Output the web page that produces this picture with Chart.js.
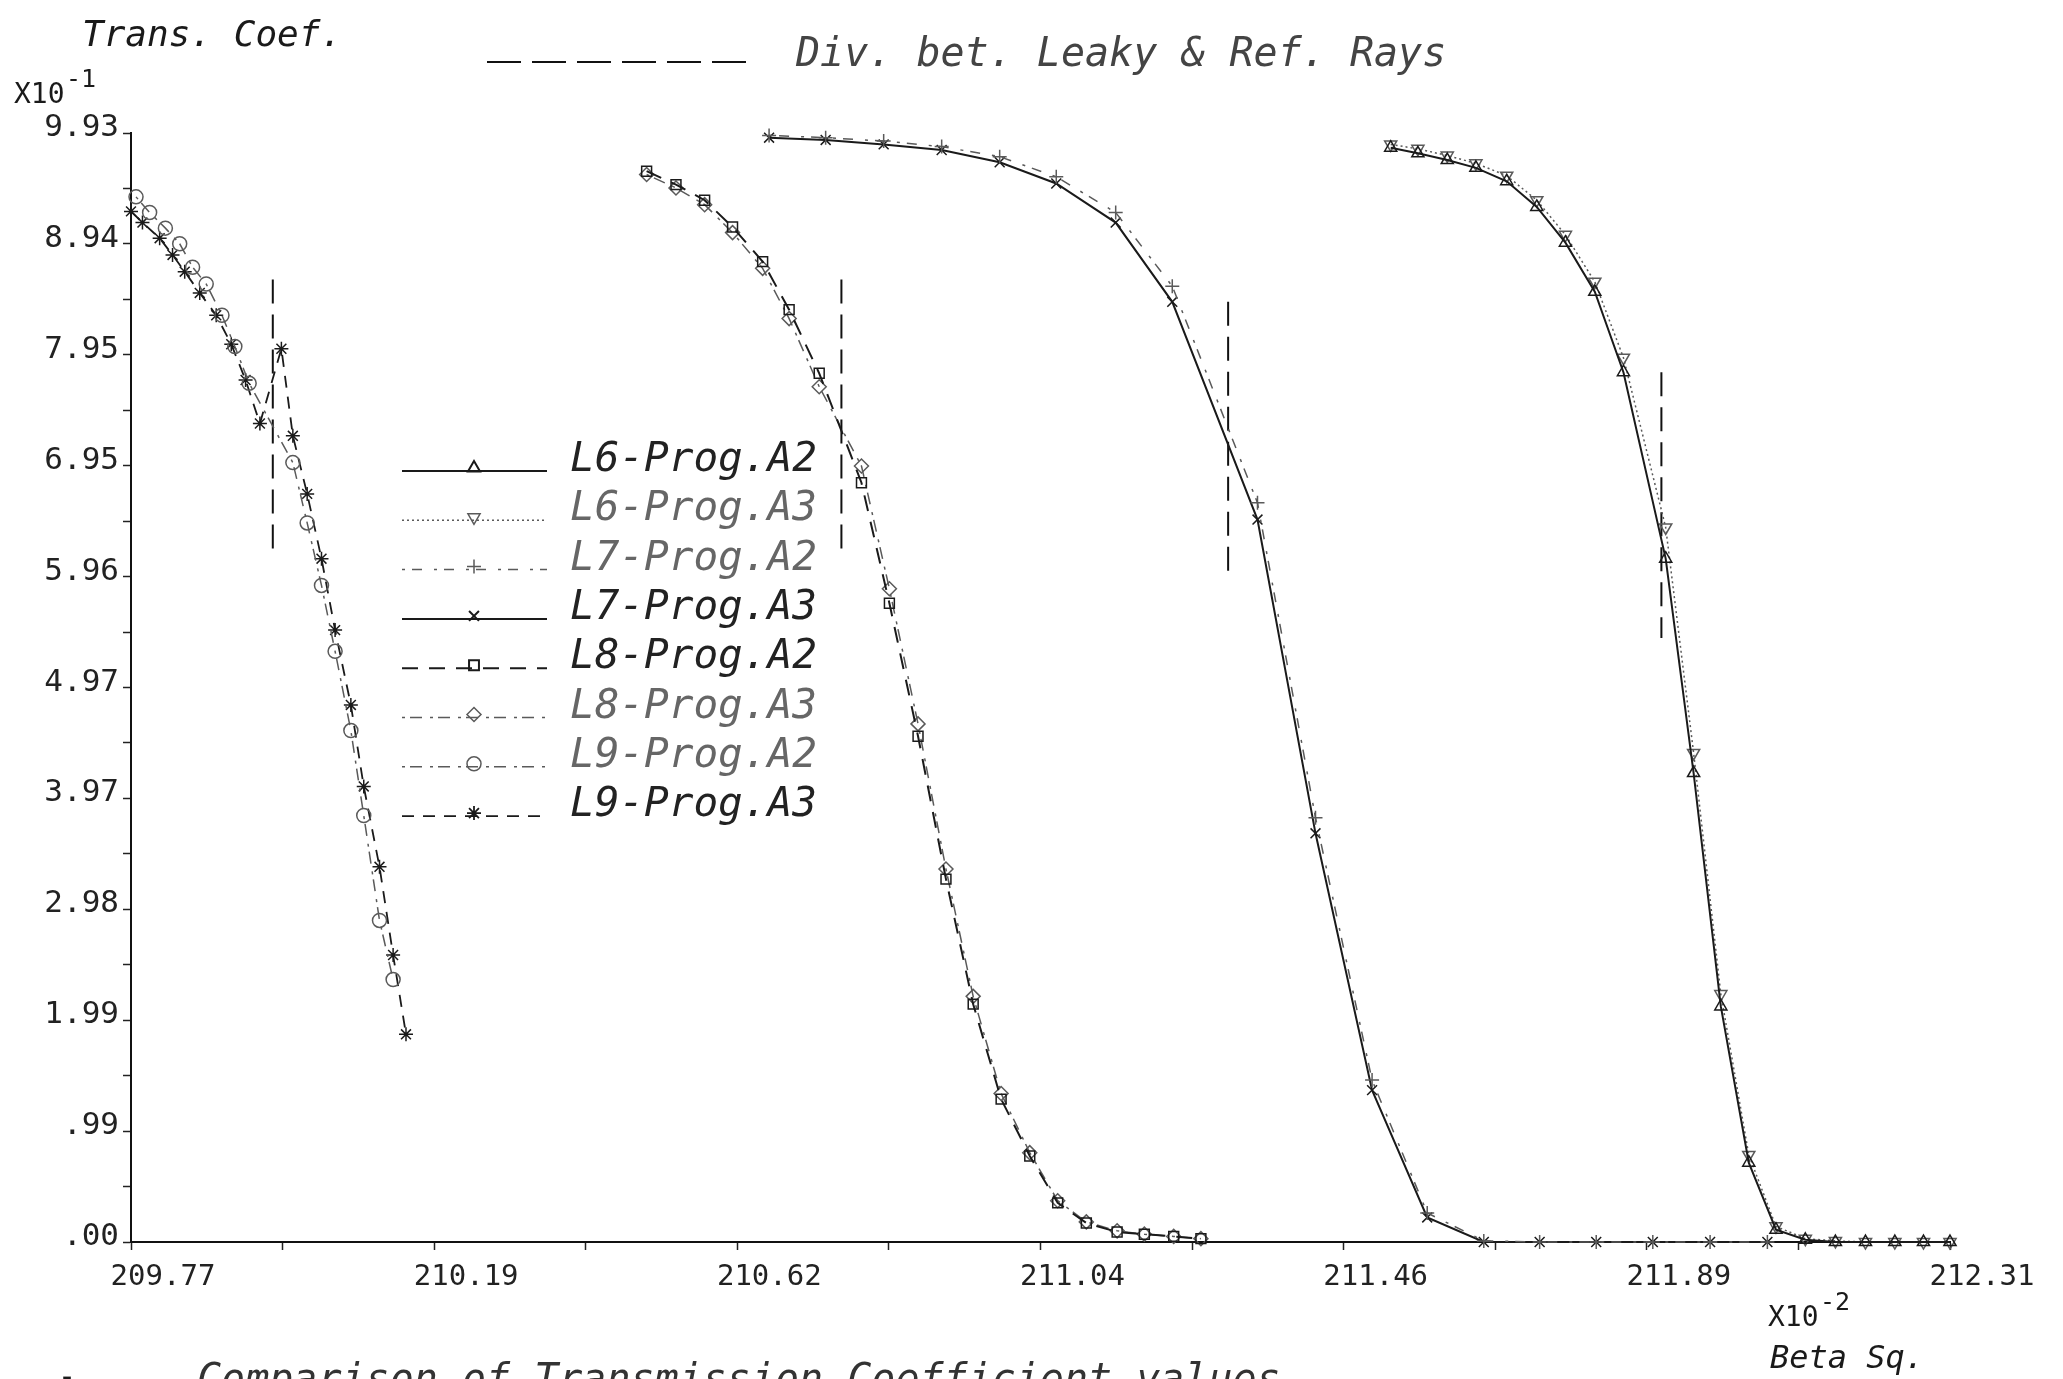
<!DOCTYPE html>
<html>
<head>
<meta charset="utf-8">
<script src="https://cdn.jsdelivr.net/npm/chart.js@4.4.1/dist/chart.umd.min.js"></script>
<style>
  html, body { margin: 0; padding: 0; background: #fff; }
  canvas { display: block; }
</style>
</head>
<body>
<canvas id="myChart" width="2063" height="1379"></canvas>
<script>
// axis ranges and tick labels (x in units of 10^-2, y in units of 10^-1)
const xMin = 209.77, xMax = 212.31;
const yMin = 0, yMax = 9.932;
const xTickLabels = ['209.77', '210.19', '210.62', '211.04', '211.46', '211.89', '212.31'];
const yTickLabels = ['.00', '.99', '1.99', '2.98', '3.97', '4.97', '5.96', '6.95', '7.95', '8.94', '9.93'];

// L6 curves
const l6X = [211.529, 211.567, 211.608, 211.648, 211.691, 211.733, 211.773, 211.814, 211.854, 211.913,
             211.952, 211.990, 212.029, 212.067, 212.108, 212.150, 212.192, 212.233, 212.273, 212.310];
const l6A2 = [9.80, 9.75, 9.69, 9.62, 9.50, 9.27, 8.95, 8.51, 7.79, 6.12,
              4.20, 2.11, 0.71, 0.11, 0.02, 0, 0, 0, 0, 0];
const l6A3 = [9.83, 9.79, 9.73, 9.66, 9.55, 9.33, 9.02, 8.60, 7.92, 6.40,
              4.38, 2.22, 0.78, 0.14, 0.03, 0.01, 0, 0, 0, 0];

// L7 curves
const l7X = [210.661, 210.740, 210.821, 210.902, 210.983, 211.062, 211.145, 211.224, 211.343,
             211.424, 211.503, 211.580, 211.659, 211.737, 211.816, 211.895, 211.975, 212.055];
const l7A2 = [9.91, 9.89, 9.86, 9.81, 9.72, 9.54, 9.22, 8.56, 6.62, 3.80, 1.45, 0.26, 0.01, 0, 0, 0, 0, 0];
const l7A3 = [9.89, 9.87, 9.83, 9.78, 9.67, 9.48, 9.13, 8.42, 6.47, 3.66, 1.36, 0.22, 0, 0, 0, 0, 0, 0];

// L8 curves
const l8X = [210.490, 210.531, 210.571, 210.610, 210.652, 210.689, 210.731, 210.790, 210.829, 210.869,
             210.908, 210.946, 210.985, 211.025, 211.064, 211.104, 211.147, 211.185, 211.226, 211.264];
const l8A2 = [9.59, 9.47, 9.33, 9.09, 8.78, 8.35, 7.78, 6.80, 5.72, 4.53,
              3.25, 2.13, 1.28, 0.77, 0.35, 0.17, 0.09, 0.07, 0.05, 0.03];
const l8A3 = [9.56, 9.44, 9.29, 9.04, 8.72, 8.27, 7.66, 6.95, 5.85, 4.64,
              3.34, 2.20, 1.33, 0.80, 0.37, 0.18, 0.10, 0.07, 0.05, 0.03];

// L9 curves
const l9A2X = [209.777, 209.796, 209.818, 209.838, 209.856, 209.875, 209.897, 209.915, 209.935,
               209.996, 210.016, 210.036, 210.055, 210.077, 210.095, 210.117, 210.136];
const l9A2 = [9.36, 9.22, 9.08, 8.94, 8.73, 8.58, 8.30, 8.02, 7.69,
              6.98, 6.44, 5.88, 5.29, 4.58, 3.82, 2.88, 2.35];
const l9A3X = [209.770, 209.786, 209.810, 209.828, 209.845, 209.866, 209.889, 209.910, 209.930, 209.950,
               209.980, 209.996, 210.016, 210.036, 210.055, 210.077, 210.095, 210.117, 210.136, 210.154];
const l9A3 = [9.23, 9.13, 8.99, 8.84, 8.69, 8.50, 8.30, 8.04, 7.72, 7.33,
              8.00, 7.22, 6.70, 6.12, 5.48, 4.81, 4.08, 3.36, 2.57, 1.86];

// divergence between leaky & refracted rays (vertical dashed markers)
const divX = [209.968, 210.762, 211.302, 211.907];
const divTop = [8.62, 8.62, 8.42, 7.79];
const divBottom = [6.18, 6.18, 6.00, 5.41];

const seriesNames = ['L6-Prog.A2', 'L6-Prog.A3', 'L7-Prog.A2', 'L7-Prog.A3',
                     'L8-Prog.A2', 'L8-Prog.A3', 'L9-Prog.A2', 'L9-Prog.A3'];

const plotFont = '"DejaVu Sans Mono", monospace';
const ink = '#1a1a1a';
const faint = '#5a5a5a';

const pts = (xs, ys) => xs.map((x, i) => ({ x: x, y: ys[i] }));

const styles = [
  { color: ink,   dash: [],             point: 'triangle', rot: 0,   width: 2 },
  { color: faint, dash: [2, 3],         point: 'triangle', rot: 180, width: 1.5 },
  { color: faint, dash: [3, 7, 10, 12], point: 'cross',    rot: 0,   width: 1.5 },
  { color: ink,   dash: [],             point: 'crossRot', rot: 0,   width: 2 },
  { color: ink,   dash: [16, 11],       point: 'rect',     rot: 0,   width: 2 },
  { color: faint, dash: [3, 5, 12, 8],  point: 'rectRot',  rot: 0,   width: 1.5 },
  { color: faint, dash: [3, 5, 12, 8],  point: 'circle',   rot: 0,   width: 1.5 },
  { color: ink,   dash: [12, 9],        point: 'star',     rot: 0,   width: 1.8 }
];

const seriesData = [
  pts(l6X, l6A2), pts(l6X, l6A3), pts(l7X, l7A2), pts(l7X, l7A3),
  pts(l8X, l8A2), pts(l8X, l8A3), pts(l9A2X, l9A2), pts(l9A3X, l9A3)
];

const datasets = seriesData.map((d, i) => ({
  label: seriesNames[i],
  data: d,
  showLine: true,
  tension: 0,
  fill: false,
  clip: false,
  borderColor: styles[i].color,
  borderWidth: styles[i].width,
  borderDash: styles[i].dash,
  pointStyle: styles[i].point,
  pointRotation: styles[i].rot,
  pointRadius: 7,
  pointBorderWidth: 1.5,
  pointBorderColor: styles[i].color,
  pointBackgroundColor: 'rgba(0,0,0,0)'
}));

divX.forEach((x, i) => {
  datasets.push({
    label: 'div' + i,
    data: [{ x: x, y: divTop[i] }, { x: x, y: divBottom[i] }],
    showLine: true,
    borderColor: '#111',
    borderWidth: 2,
    borderDash: [24, 11],
    pointRadius: 0
  });
});

function text(ctx, s, x, y, size, italic, color) {
  ctx.font = (italic ? 'italic ' : '') + size + 'px ' + plotFont;
  ctx.fillStyle = color || ink;
  ctx.fillText(s, x, y);
}

const decorations = {
  id: 'decorations',
  afterDraw(chart) {
    const ctx = chart.ctx;
    ctx.save();
    ctx.textBaseline = 'alphabetic';
    ctx.textAlign = 'left';

    // y axis title and multiplier
    text(ctx, 'Trans. Coef.', 82, 46, 36, true);
    text(ctx, 'X10', 14, 103, 28, false);
    text(ctx, '-1', 66, 87, 25, false);

    // header key for the vertical dashed lines
    ctx.strokeStyle = '#111';
    ctx.lineWidth = 2;
    ctx.setLineDash([34, 11]);
    ctx.beginPath();
    ctx.moveTo(487, 62);
    ctx.lineTo(752, 62);
    ctx.stroke();
    ctx.setLineDash([]);
    text(ctx, 'Div. bet. Leaky & Ref. Rays', 796, 66, 40, true, '#444');

    // legend
    seriesNames.forEach((name, i) => {
      const y = 471 + i * 49.3;
      const st = styles[i];
      ctx.strokeStyle = st.color;
      ctx.lineWidth = st.width;
      ctx.setLineDash(st.dash);
      ctx.beginPath();
      ctx.moveTo(402, y);
      ctx.lineTo(547, y);
      ctx.stroke();
      ctx.setLineDash([]);
      ctx.fillStyle = 'rgba(0,0,0,0)';
      Chart.helpers.drawPoint(ctx, {
        pointStyle: st.point, rotation: st.rot, radius: 7, borderWidth: 1.5
      }, 474, y - 3);
      text(ctx, name, 570, y, 41, true, st.color === ink ? '#222' : '#666');
    });

    // x axis multiplier and title
    text(ctx, 'X10', 1768, 1326, 28, false);
    text(ctx, '-2', 1820, 1310, 25, false);
    text(ctx, 'Beta Sq.', 1770, 1368, 32, true);

    // caption, cut off at the bottom edge like the scan
    text(ctx, '-', 58, 1386, 30, false);
    text(ctx, 'Comparison of Transmission Coefficient values', 197, 1392, 40, true, '#333');
    ctx.restore();
  }
};

const xStep = (xMax - xMin) / 12;
const yStep = (yMax - yMin) / 20;

new Chart(document.getElementById('myChart'), {
  type: 'scatter',
  data: { datasets: datasets },
  plugins: [decorations],
  options: {
    responsive: false,
    animation: false,
    devicePixelRatio: 1,
    layout: { padding: { left: 0, top: 133, right: 113, bottom: 0 } },
    plugins: { legend: { display: false }, tooltip: { enabled: false } },
    scales: {
      x: {
        type: 'linear',
        min: xMin,
        max: xMax,
        afterBuildTicks: (s) => {
          s.ticks = Array.from({ length: 13 }, (_, i) => ({ value: xMin + i * xStep }));
        },
        afterFit: (s) => { s.height = 137; },
        ticks: {
          autoSkip: false,
          maxRotation: 0,
          padding: 10,
          labelOffset: 32,
          color: '#222',
          font: { family: plotFont, size: 29 },
          callback: (v, i) => (i % 2 === 0 ? xTickLabels[i / 2] : '')
        },
        grid: { drawOnChartArea: false, drawTicks: true, tickLength: 8, tickColor: '#222', tickWidth: 1.5 },
        border: { display: true, color: '#111', width: 2 }
      },
      y: {
        type: 'linear',
        min: yMin,
        max: yMax,
        afterBuildTicks: (s) => {
          s.ticks = Array.from({ length: 21 }, (_, i) => ({ value: yMin + i * yStep }));
        },
        afterFit: (s) => { s.width = 131; },
        ticks: {
          autoSkip: false,
          padding: 4,
          labelOffset: -5,
          color: '#222',
          font: { family: plotFont, size: 31 },
          callback: (v, i) => (i % 2 === 0 ? yTickLabels[i / 2] : '')
        },
        grid: { drawOnChartArea: false, drawTicks: true, tickLength: 8, tickColor: '#222', tickWidth: 1.5 },
        border: { display: true, color: '#111', width: 2 }
      }
    }
  }
});
</script>
</body>
</html>
